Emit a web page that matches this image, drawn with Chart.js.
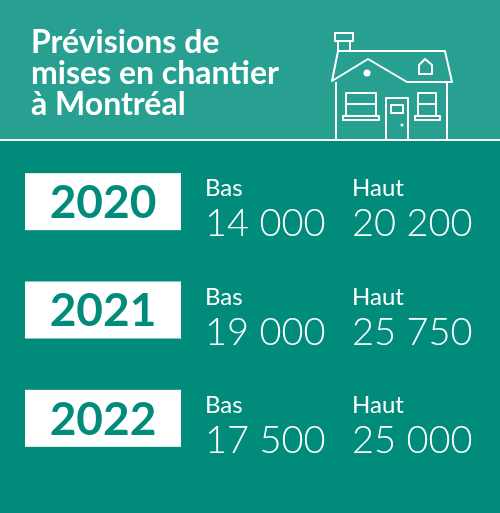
<!DOCTYPE html>
<html>
<head>
<meta charset="utf-8">
<script src="https://cdn.jsdelivr.net/npm/chart.js@4"></script>
<style>
  html, body { margin: 0; padding: 0; background: #008b7b; }
  #wrap { width: 500px; height: 513px; position: relative; }
</style>
</head>
<body>
<div id="wrap"><canvas id="myChart" width="500" height="513"></canvas></div>
<script>
const years = ['2020', '2021', '2022'];
const basValues = [14000, 19000, 17500];
const hautValues = [20200, 25750, 25000];
const titleLines = ['Prévisions de', 'mises en chantier', 'à Montréal'];

// French-style thousands separator: "14 000"
function fmt(n) {
    return String(n).replace(/\B(?=(\d{3})+(?!\d))/g, ' ');
}

const infoPlugin = {
    id: 'info',
    beforeDraw(chart) {
        const ctx = chart.ctx;
        ctx.save();
        // background
        ctx.fillStyle = '#008b7b';
        ctx.fillRect(0, 0, chart.width, chart.height);
        ctx.fillStyle = '#27a092';
        ctx.fillRect(0, 0, chart.width, 139);
        ctx.strokeStyle = '#ffffff';
        ctx.lineWidth = 2;
        ctx.beginPath(); ctx.moveTo(0, 140); ctx.lineTo(500, 140); ctx.stroke();

        // title
        ctx.fillStyle = '#ffffff';
        ctx.font = 'bold 32px Lato';
        ctx.textBaseline = 'alphabetic';
        titleLines.forEach((t, i) => ctx.fillText(t, 31, 53 + i * 31));

        // house icon
        ctx.lineWidth = 2;
        ctx.lineJoin = 'round';
        ctx.beginPath();
        ctx.rect(335, 33, 18, 8);               // chimney cap
        ctx.moveTo(338, 41); ctx.lineTo(338, 51);
        ctx.moveTo(350, 41); ctx.lineTo(350, 51);
        ctx.moveTo(338, 51); ctx.lineTo(445, 51); ctx.lineTo(452, 82);
        ctx.lineTo(407, 82); ctx.lineTo(368, 59); ctx.lineTo(332, 81); ctx.lineTo(338, 51);
        ctx.moveTo(336, 82); ctx.lineTo(336, 140);
        ctx.moveTo(447, 82); ctx.lineTo(447, 140);
        // small attic window
        ctx.moveTo(419, 74); ctx.lineTo(419, 65); ctx.lineTo(425, 59); ctx.lineTo(432, 65); ctx.lineTo(432, 74); ctx.closePath();
        ctx.stroke();
        ctx.beginPath(); ctx.arc(367, 73, 3.5, 0, Math.PI * 2); ctx.fill();
        // windows
        ctx.beginPath();
        ctx.rect(346, 93, 30, 23); ctx.moveTo(346, 104); ctx.lineTo(376, 104);
        ctx.rect(343, 116, 36, 4);
        ctx.rect(418, 93, 18, 23); ctx.moveTo(418, 104); ctx.lineTo(436, 104);
        ctx.rect(415, 116, 25, 4);
        // door
        ctx.moveTo(386, 140); ctx.lineTo(386, 98); ctx.lineTo(408, 98); ctx.lineTo(408, 140);
        ctx.rect(391, 105, 12, 8);
        ctx.stroke();
        ctx.beginPath(); ctx.arc(402, 125, 1.5, 0, Math.PI * 2); ctx.fill();
        ctx.restore();
    },
    afterDatasetsDraw(chart) {
        const ctx = chart.ctx;
        const y = chart.scales.y;
        ctx.save();
        years.forEach((yr, i) => {
            const cy = y.getPixelForValue(i);
            ctx.fillStyle = '#ffffff';
            ctx.fillRect(25, cy - 28, 156, 57);
            ctx.fillStyle = '#008b7b';
            ctx.font = 'bold 46px Lato';
            ctx.textAlign = 'center';
            ctx.textBaseline = 'middle';
            ctx.fillText(yr, 103, cy + 2);

            ctx.fillStyle = '#ffffff';
            ctx.textAlign = 'left';
            ctx.textBaseline = 'alphabetic';
            ctx.font = '24px Lato';
            ctx.fillText('Bas', 205, cy - 5);
            ctx.fillText('Haut', 352, cy - 5);
            ctx.font = '300 38px Lato';
            ctx.fillText(fmt(basValues[i]), 205, cy + 35);
            ctx.fillText(fmt(hautValues[i]), 352, cy + 35);
        });
        ctx.restore();
    }
};

new Chart(document.getElementById('myChart').getContext('2d'), {
    type: 'bar',
    data: {
        labels: years,
        datasets: [{
            label: 'Mises en chantier',
            data: years.map((_, i) => [basValues[i], hautValues[i]]),
            backgroundColor: 'rgba(0,0,0,0)',
            borderWidth: 0
        }]
    },
    options: {
        indexAxis: 'y',
        responsive: false,
        animation: false,
        layout: { padding: { top: 147, bottom: 41, left: 0, right: 0 } },
        plugins: { legend: { display: false }, tooltip: { enabled: false } },
        scales: {
            x: { display: false, min: 0, max: 30000 },
            y: { display: false }
        }
    },
    plugins: [infoPlugin]
});
</script>
</body>
</html>
